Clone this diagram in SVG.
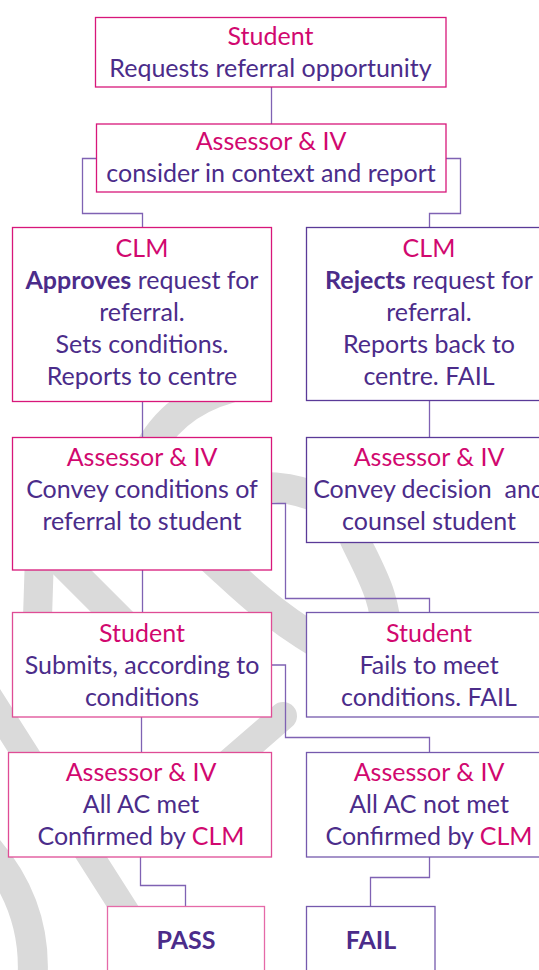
<svg xmlns="http://www.w3.org/2000/svg" width="539" height="970" viewBox="0 0 539 970">
<style>
.bg{fill:#ffffff}
.wm{fill:none;stroke:#dadada;stroke-linecap:round}
.bm{fill:#ffffff;stroke:#d8177a;stroke-width:1.3}
.bm2{fill:#ffffff;stroke:#df4c95;stroke-width:1.3}
.bm3{fill:#ffffff;stroke:#e56aa8;stroke-width:1.3}
.bp{fill:#ffffff;stroke:#5a3a98;stroke-width:1.3}
.bp2{fill:#ffffff;stroke:#7559ad;stroke-width:1.3}
.c{fill:none;stroke:#7f62b3;stroke-width:1.3}
text{font-family:Lato,"Liberation Sans",sans-serif;font-size:25px;text-anchor:middle}
.h{fill:#d1086f}
.t{fill:#4b2c8a}
.b{font-weight:bold}
</style>
<rect class="bg" x="0" y="0" width="539" height="970"/>
<g id="watermark">
<path class="wm" stroke-width="30" d="M 143 462 Q 168 405 230 388"/>
<path class="wm" stroke-width="30" d="M 240 488 C 290 483 342 495 355 540 C 370 572 388 600 386 640"/>
<path class="wm" stroke-width="29" d="M 40 540 L 35 695"/>
<path class="wm" stroke-width="30" d="M 40 540 L 175 675"/>
<path class="wm" stroke-width="32" d="M 160 510 L 225 570 C 250 593 280 622 340 655"/>
<path class="wm" stroke-width="28" d="M 283 716 L 215 775"/>
<path class="wm" stroke-width="27" d="M -60 620 L 128 915"/>
<path class="wm" stroke-width="30" d="M -25 835 Q 40 900 32 985"/>
</g>
<g id="connectors">
<path class="c" d="M 271.5 87 V 124"/>
<path class="c" d="M 96 158.5 H 82.5 V 213.5 H 142.5 V 227"/>
<path class="c" d="M 446 158.5 H 460.5 V 213.5 H 429.5 V 227"/>
<path class="c" d="M 142.5 402 V 437"/>
<path class="c" d="M 429.5 400 V 437"/>
<path class="c" d="M 271.5 503.5 H 285.5 V 598.5 H 429.5 V 612"/>
<path class="c" d="M 142.5 570 V 612"/>
<path class="c" d="M 271.5 665 H 285.5 V 737.5 H 429.5 V 752"/>
<path class="c" d="M 141.5 717 V 752"/>
<path class="c" d="M 140.5 857 V 885.5 H 185.5 V 906"/>
<path class="c" d="M 429.5 857 V 877.5 H 370.5 V 906"/>
</g>
<g id="n1">
<rect class="bm" x="95.5" y="17.5" width="350.5" height="69.5"/>
<text x="270.5" y="45" class="h">Student</text>
<text x="270.5" y="76.5" class="t">Requests referral opportunity</text>
</g>
<g id="n2">
<rect class="bm" x="96.5" y="124" width="349.5" height="68"/>
<text x="271" y="150" class="h">Assessor &amp; IV</text>
<text x="271" y="181.5" class="t">consider in context and report</text>
</g>
<g id="n3">
<rect class="bm" x="12.5" y="227.5" width="259" height="174"/>
<text x="142" y="256.5" class="h">CLM</text>
<text x="142" y="288.7" class="t"><tspan class="b">Approves</tspan> request for</text>
<text x="142" y="320.9" class="t">referral.</text>
<text x="142" y="353.1" class="t">Sets conditions.</text>
<text x="142" y="385.3" class="t">Reports to centre</text>
</g>
<g id="n4">
<rect class="bp" x="306.5" y="227.5" width="246" height="173"/>
<text x="429" y="256.5" class="h">CLM</text>
<text x="429" y="288.7" class="t"><tspan class="b">Rejects</tspan> request for</text>
<text x="429" y="320.9" class="t">referral.</text>
<text x="429" y="353.1" class="t">Reports back to</text>
<text x="429" y="385.3" class="t">centre. FAIL</text>
</g>
<g id="n5">
<rect class="bm" x="12.5" y="437.5" width="259" height="132.5"/>
<text x="142" y="466" class="h">Assessor &amp; IV</text>
<text x="142" y="498.3" class="t">Convey conditions of</text>
<text x="142" y="530.3" class="t">referral to student</text>
</g>
<g id="n6">
<rect class="bp" x="306.5" y="437.5" width="246" height="105"/>
<text x="429" y="466" class="h">Assessor &amp; IV</text>
<text x="429" y="498.3" class="t" xml:space="preserve">Convey decision  and</text>
<text x="429" y="530.3" class="t">counsel student</text>
</g>
<g id="n7">
<rect class="bm2" x="12.5" y="612.5" width="259" height="104.5"/>
<text x="142" y="641.5" class="h">Student</text>
<text x="142" y="673.5" class="t">Submits, according to</text>
<text x="142" y="705.5" class="t">conditions</text>
</g>
<g id="n8">
<rect class="bp2" x="306.5" y="612.5" width="246" height="104.5"/>
<text x="429" y="641.5" class="h">Student</text>
<text x="429" y="673.5" class="t">Fails to meet</text>
<text x="429" y="705.5" class="t">conditions. FAIL</text>
</g>
<g id="n9">
<rect class="bm2" x="8.5" y="752.5" width="263" height="104.5"/>
<text x="141" y="780.7" class="h">Assessor &amp; IV</text>
<text x="141" y="812.7" class="t">All AC met</text>
<text x="141" y="844.6" class="t">Confirmed by <tspan class="h">CLM</tspan></text>
</g>
<g id="n10">
<rect class="bp2" x="306.5" y="752.5" width="246" height="104.5"/>
<text x="429" y="780.7" class="h">Assessor &amp; IV</text>
<text x="429" y="812.7" class="t">All AC not met</text>
<text x="429" y="844.6" class="t">Confirmed by <tspan class="h">CLM</tspan></text>
</g>
<g id="n11">
<rect class="bm3" x="107.5" y="906.5" width="157" height="80"/>
<text x="186" y="948.8" class="t b">PASS</text>
</g>
<g id="n12">
<rect class="bp2" x="306.5" y="906.5" width="128.5" height="80"/>
<text x="371" y="948.8" class="t b">FAIL</text>
</g>
</svg>
